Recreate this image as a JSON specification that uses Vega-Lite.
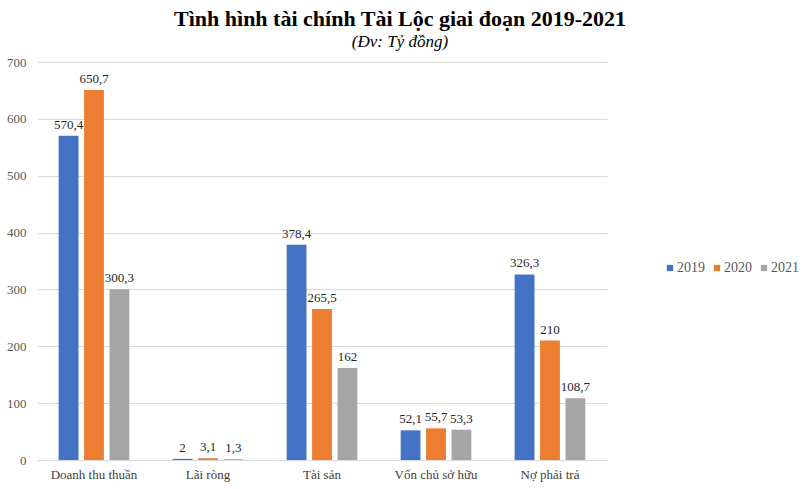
{
  "$schema": "https://vega.github.io/schema/vega-lite/v6.json",
  "width": 570,
  "height": 398,
  "autosize": "none",
  "padding": {"left": 37, "top": 62, "right": 193, "bottom": 29},
  "background": "white",
  "config": {
    "locale": {"number": {"decimal": ",", "thousands": ".", "grouping": [3], "currency": ["", ""]}},
    "view": {"stroke": null},
    "font": "Liberation Serif"
  },
  "title": {
    "text": "Tình hình tài chính Tài Lộc giai đoạn 2019-2021",
    "subtitle": "(Đv: Tỷ đồng)",
    "font": "Liberation Serif",
    "fontSize": 22,
    "fontWeight": "bold",
    "color": "#000000",
    "subtitleFont": "Liberation Serif",
    "subtitleFontSize": 17,
    "subtitleFontStyle": "italic",
    "subtitleColor": "#000000",
    "subtitlePadding": 3,
    "anchor": "middle",
    "dx": 78,
    "offset": 5
  },
  "data": {
    "values": [
      {"category": "Doanh thu thuần", "year": "2019", "value": 570.4},
      {"category": "Doanh thu thuần", "year": "2020", "value": 650.7},
      {"category": "Doanh thu thuần", "year": "2021", "value": 300.3},
      {"category": "Lãi ròng", "year": "2019", "value": 2},
      {"category": "Lãi ròng", "year": "2020", "value": 3.1},
      {"category": "Lãi ròng", "year": "2021", "value": 1.3},
      {"category": "Tài sản", "year": "2019", "value": 378.4},
      {"category": "Tài sản", "year": "2020", "value": 265.5},
      {"category": "Tài sản", "year": "2021", "value": 162},
      {"category": "Vốn chủ sở hữu", "year": "2019", "value": 52.1},
      {"category": "Vốn chủ sở hữu", "year": "2020", "value": 55.7},
      {"category": "Vốn chủ sở hữu", "year": "2021", "value": 53.3},
      {"category": "Nợ phải trả", "year": "2019", "value": 326.3},
      {"category": "Nợ phải trả", "year": "2020", "value": 210},
      {"category": "Nợ phải trả", "year": "2021", "value": 108.7}
    ]
  },
  "encoding": {
    "x": {
      "field": "category",
      "type": "nominal",
      "sort": null,
      "scale": {"paddingInner": 0.38, "paddingOuter": 0.19},
      "axis": {
        "title": null,
        "labelAngle": 0,
        "labelFont": "Liberation Serif",
        "labelFontSize": 13,
        "labelColor": "#404040",
        "labelPadding": 8,
        "ticks": false,
        "domainColor": "#D9D9D9",
        "domainWidth": 1
      }
    },
    "xOffset": {
      "field": "year",
      "type": "nominal",
      "scale": {"paddingInner": 0.22, "paddingOuter": 0}
    },
    "y": {
      "field": "value",
      "type": "quantitative",
      "scale": {"domain": [0, 700]},
      "axis": {
        "title": null,
        "values": [0, 100, 200, 300, 400, 500, 600, 700],
        "labelFont": "Liberation Serif",
        "labelFontSize": 13,
        "labelColor": "#595959",
        "labelPadding": 11,
        "ticks": false,
        "domain": false,
        "gridColor": "#D9D9D9",
        "gridWidth": 1
      }
    }
  },
  "layer": [
    {
      "mark": {"type": "bar"},
      "encoding": {
        "color": {
          "field": "year",
          "type": "nominal",
          "scale": {"domain": ["2019", "2020", "2021"], "range": ["#4472C4", "#ED7D31", "#A5A5A5"]},
          "legend": {
            "title": null,
            "orient": "none",
            "legendX": 626,
            "legendY": 199,
            "direction": "horizontal",
            "columns": 3,
            "symbolType": "square",
            "symbolSize": 40,
            "symbolStrokeWidth": 0,
            "labelFont": "Liberation Serif",
            "labelFontSize": 14,
            "labelColor": "#595959",
            "labelOffset": 0,
            "columnPadding": 5
          }
        }
      }
    },
    {
      "mark": {"type": "text", "baseline": "bottom", "dy": -4, "font": "Liberation Serif", "fontSize": 13, "color": "#262626"},
      "encoding": {
        "text": {"field": "value", "type": "quantitative", "format": ".1~f"}
      }
    }
  ]
}
